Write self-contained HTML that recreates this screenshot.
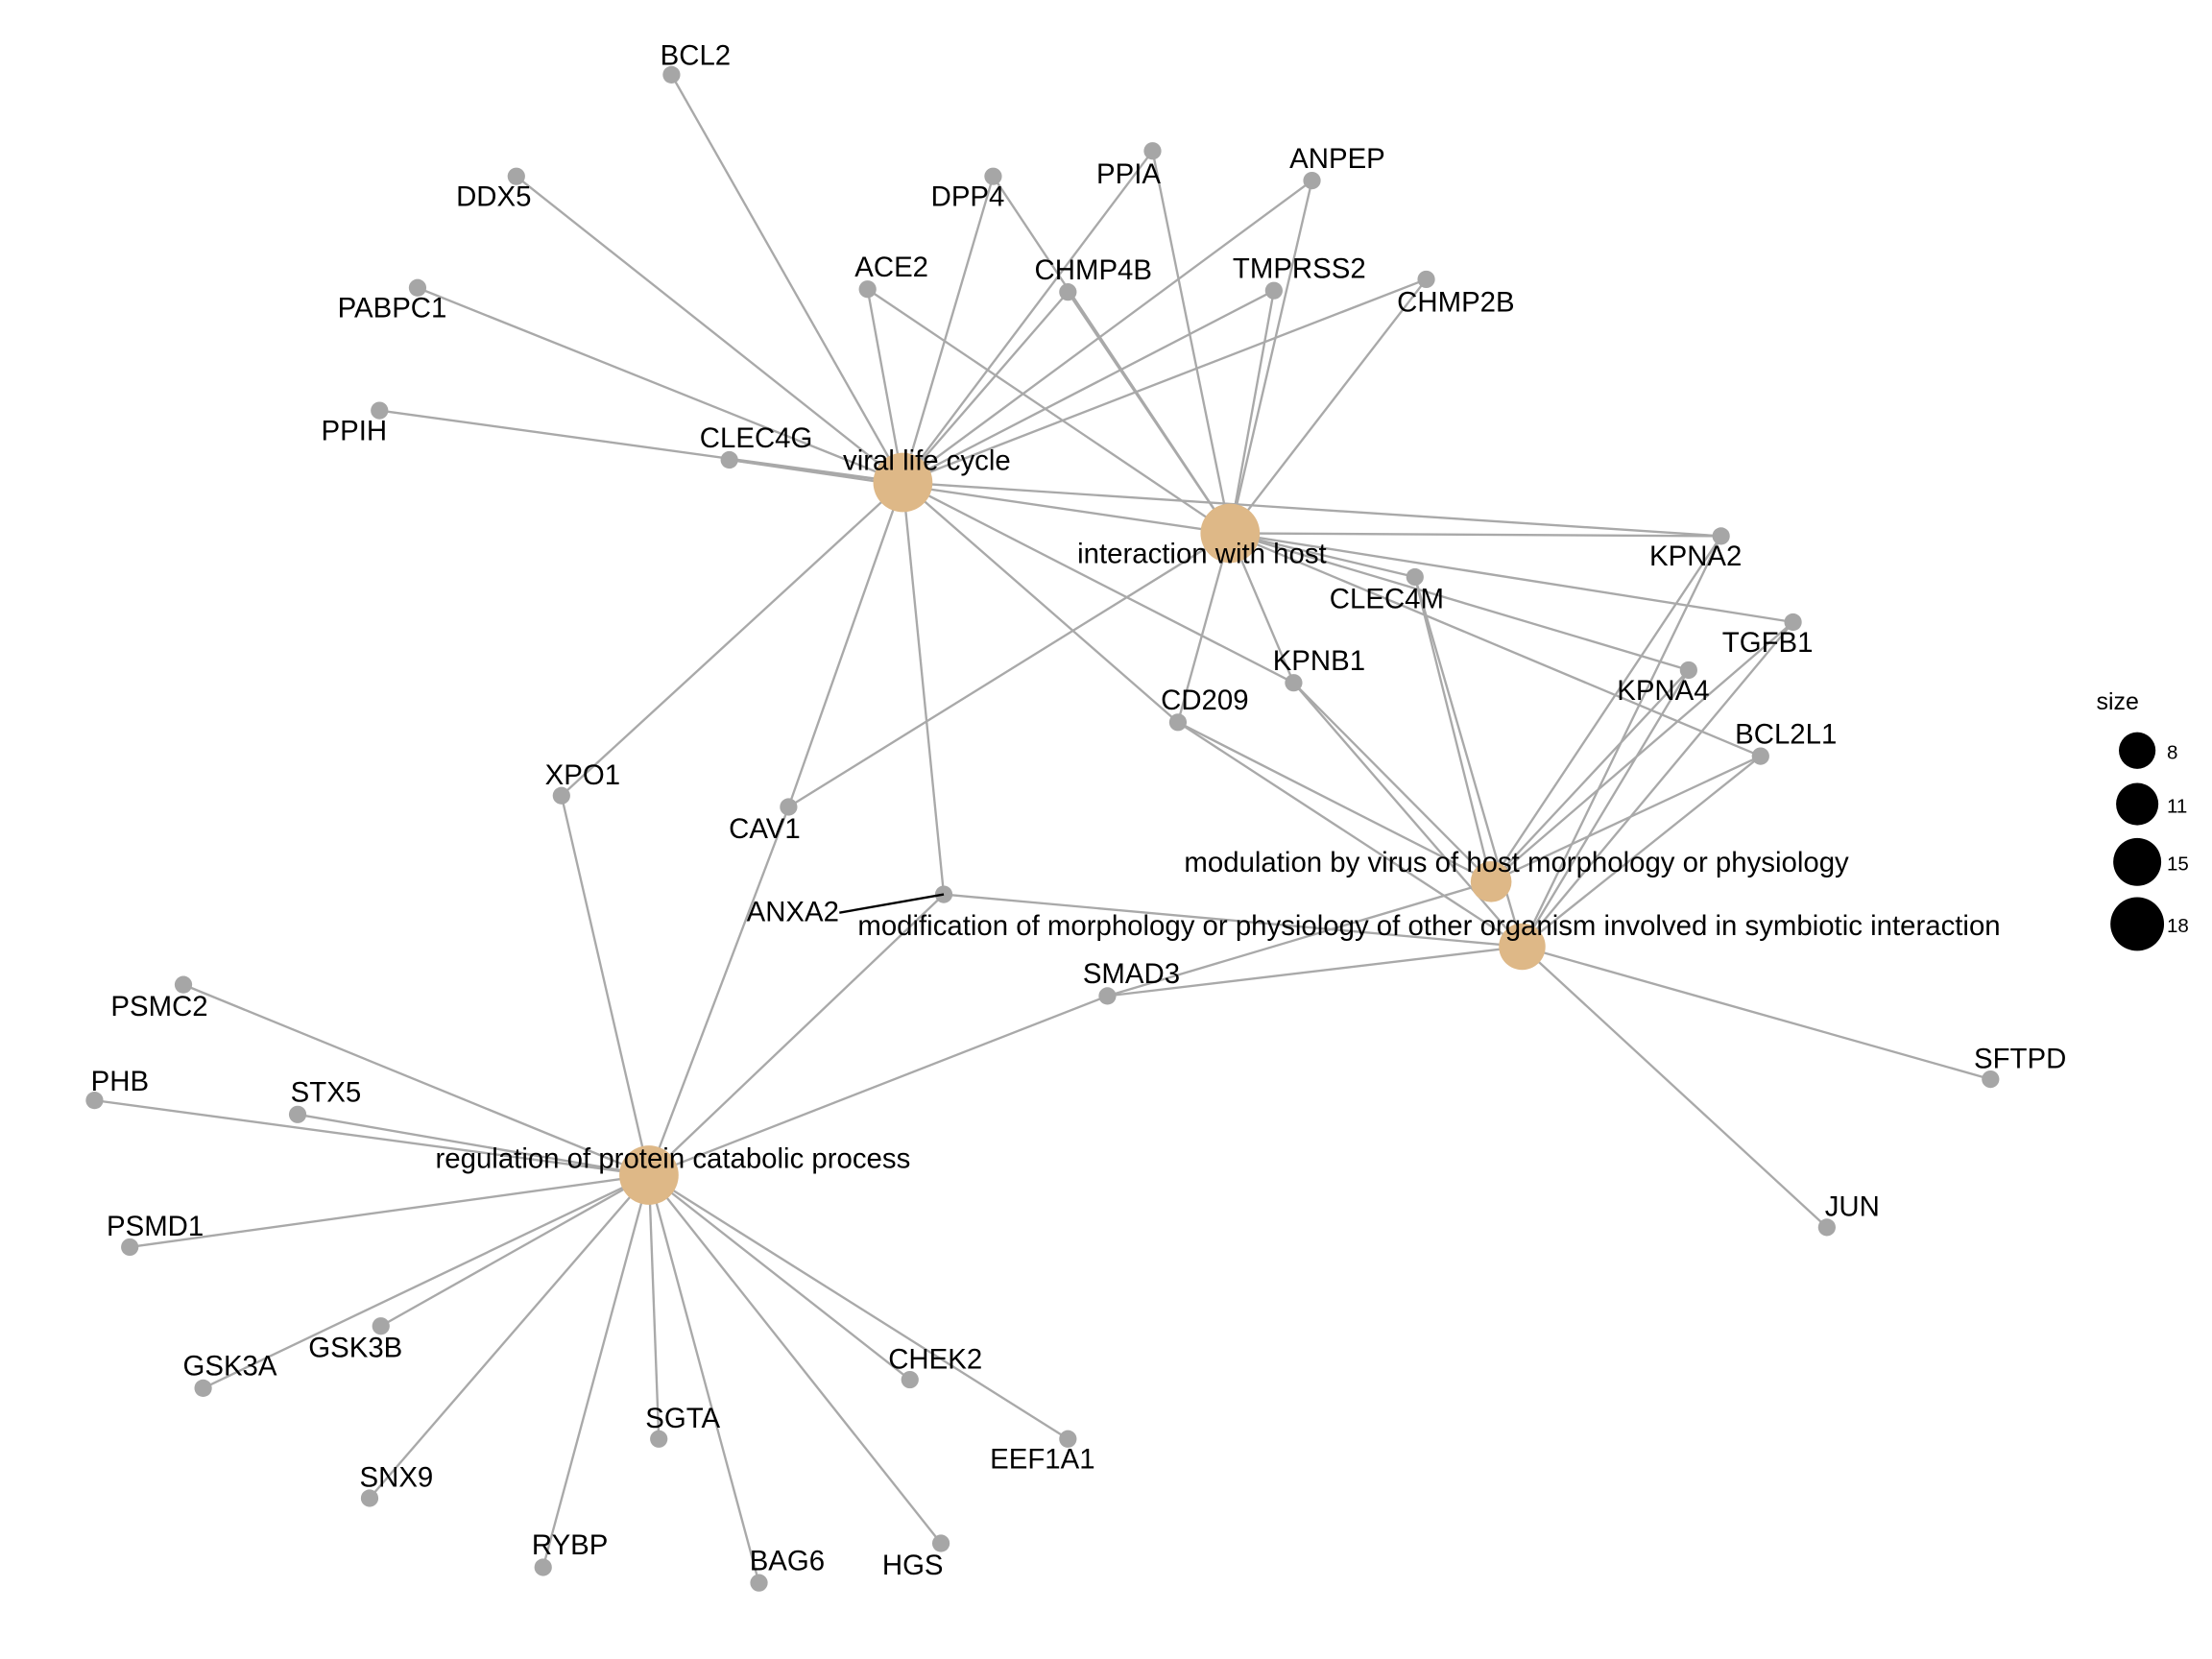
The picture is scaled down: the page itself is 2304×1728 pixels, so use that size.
<!DOCTYPE html>
<html><head><meta charset="utf-8"><style>
html,body{margin:0;padding:0;background:#fff;}
svg{display:block;}
text{font-family:"Liberation Sans",Arial,sans-serif;font-size:20px;fill:#000;}
</style></head><body>
<svg width="2304" height="1728" viewBox="0 0 1568 1176" xmlns="http://www.w3.org/2000/svg">
<rect width="1568" height="1176" fill="#fff"/>
<g stroke="#a9a9a9" stroke-width="1.6" fill="none" id="edges"></g>
<g id="nodes"></g>
<g id="labels"></g>
<line x1="595" y1="647" x2="669" y2="634" stroke="#000" stroke-width="1.6"/>
<text x="1486" y="503" style="font-size:17px">size</text>
<circle cx="1515" cy="532" r="13" fill="#000"/><text x="1536" y="538" style="font-size:14px">8</text>
<circle cx="1515" cy="570" r="15" fill="#000"/><text x="1536" y="576" style="font-size:14px">11</text>
<circle cx="1515" cy="611" r="17" fill="#000"/><text x="1536" y="617" style="font-size:14px">15</text>
<circle cx="1515" cy="655" r="19" fill="#000"/><text x="1536" y="661" style="font-size:14px">18</text>
<script>
const G={
BCL2:[476,53,493,46],DDX5:[366,125,350,146],DPP4:[704,125,686,146],PPIA:[817,107,800,130],ANPEP:[930,128,948,119],
ACE2:[615,205,632,196],CHMP4B:[757,207,775,198],TMPRSS2:[903,206,921,197],CHMP2B:[1011,198,1032,221],PABPC1:[296,204,278,225],
PPIH:[269,291,251,312],CLEC4G:[517,326,536,317],KPNA2:[1220,380,1202,401],CLEC4M:[1003,409,983,431],TGFB1:[1271,441,1253,462],
KPNB1:[917,484,935,475],KPNA4:[1197,475,1179,496],CD209:[835,512,854,503],BCL2L1:[1248,536,1266,527],XPO1:[398,564,413,556],
CAV1:[559,572,542,594],ANXA2:[669,634,562,653],SMAD3:[785,706,802,697],SFTPD:[1411,765,1432,757],JUN:[1295,870,1313,862],
PSMC2:[130,698,113,720],PHB:[67,780,85,773],STX5:[211,790,231,781],PSMD1:[92,884,110,876],GSK3B:[270,940,252,962],
GSK3A:[144,984,163,975],SNX9:[262,1062,281,1054],SGTA:[467,1020,484,1012],RYBP:[385,1111,404,1102],BAG6:[538,1122,558,1113],
HGS:[667,1094,647,1116],CHEK2:[645,978,663,970],EEF1A1:[757,1020,739,1041]};
const C={V:[640,342,21,'viral life cycle',657,333],I:[872,378,21,'interaction with host',852,399],
M:[1057,625,14.5,'modulation by virus of host morphology or physiology',1075,618],
O:[1079,671,16.5,'modification of morphology or physiology of other organism involved in symbiotic interaction',1013,663],
R:[460,833,21,'regulation of protein catabolic process',477,828]};
const E={V:'BCL2 DDX5 DPP4 PPIA ANPEP ACE2 CHMP4B TMPRSS2 CHMP2B PABPC1 PPIH CLEC4G KPNB1 CD209 XPO1 CAV1 ANXA2 KPNA2',
I:'ACE2 CHMP4B PPIA ANPEP TMPRSS2 CHMP2B DPP4 KPNA2 CLEC4M TGFB1 KPNB1 KPNA4 CD209 CAV1 BCL2L1 CLEC4G',
M:'KPNA2 TGFB1 KPNB1 CLEC4M CD209 BCL2L1 KPNA4 SMAD3',
O:'KPNA2 TGFB1 KPNA4 BCL2L1 CLEC4M CD209 KPNB1 ANXA2 SMAD3 SFTPD JUN',
R:'XPO1 CAV1 ANXA2 SMAD3 PSMC2 PHB STX5 PSMD1 GSK3B GSK3A SNX9 SGTA RYBP BAG6 HGS CHEK2 EEF1A1'};
const ns='http://www.w3.org/2000/svg';
function el(t,a,p,txt){const e=document.createElementNS(ns,t);for(const k in a)e.setAttribute(k,a[k]);if(txt)e.textContent=txt;document.getElementById(p).appendChild(e);}
for(const c in E){for(const g of E[c].split(' ')){el('line',{x1:C[c][0],y1:C[c][1],x2:G[g][0],y2:G[g][1]},'edges');}}
for(const g in G){el('circle',{cx:G[g][0],cy:G[g][1],r:6.2,fill:'#a6a6a6'},'nodes');el('text',{x:G[g][2],y:G[g][3],'text-anchor':'middle'},'labels',g);}
for(const c in C){el('circle',{cx:C[c][0],cy:C[c][1],r:C[c][2],fill:'#deb887'},'nodes');el('text',{x:C[c][4],y:C[c][5],'text-anchor':'middle'},'labels',C[c][3]);}
</script>
</svg>
</body></html>
